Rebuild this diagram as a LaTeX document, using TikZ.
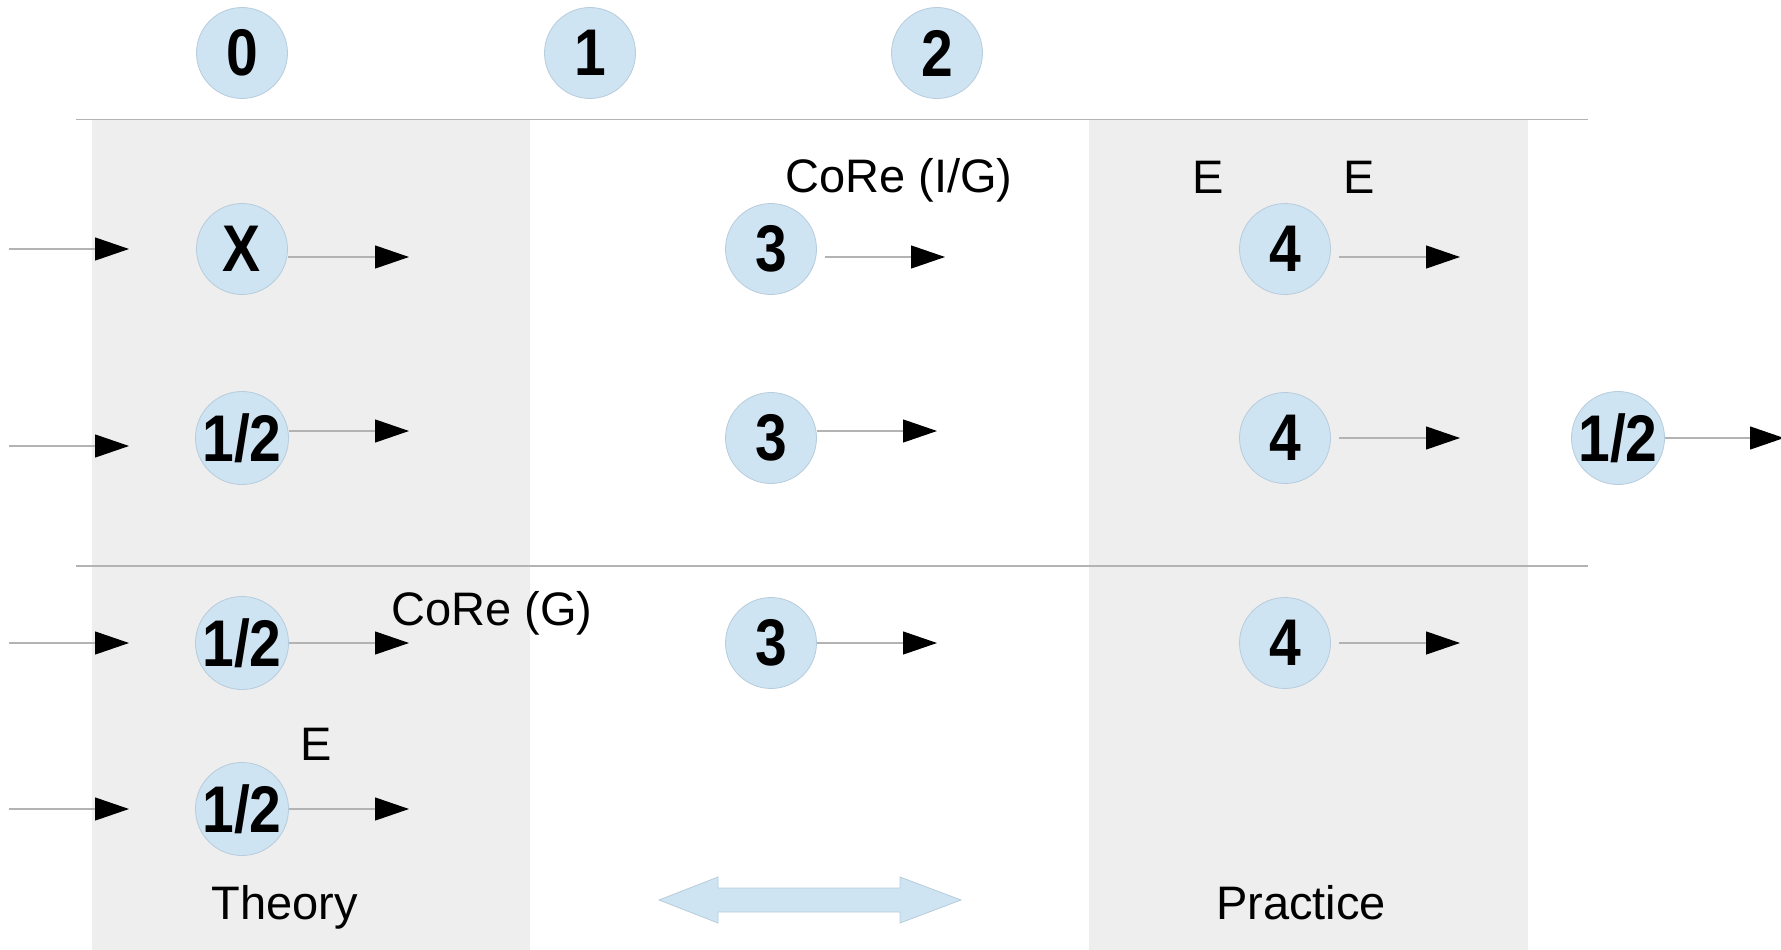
\documentclass[tikz,border=0pt]{standalone}
\usepackage{fontspec}
\setmainfont{Liberation Sans}
\usetikzlibrary{arrows.meta}
\definecolor{cblue}{HTML}{CFE4F2}
\definecolor{cborder}{HTML}{B7CCDC}
\definecolor{colgray}{HTML}{EEEEEE}
\definecolor{lgray}{HTML}{B3B3B3}
\newcommand{\numtxt}[1]{\scalebox{0.95}[1.1]{#1}}
\begin{document}
\begin{tikzpicture}[x=1pt,y=-1pt,
  num/.style={circle, fill=cblue, draw=cborder, line width=0.8pt, minimum size=91pt, inner sep=0pt,
    font=\fontsize{60}{60}\selectfont\bfseries},
  conn/.style={draw=lgray, line width=1.2pt, -{Triangle[length=34pt,width=23pt,color=black]}},
  sepline/.style={draw=lgray, line width=1.2pt},
  lbl/.style={inner sep=0pt, anchor=base, font=\fontsize{47}{47}\selectfont}]
\useasboundingbox (0,0) rectangle (1781,950);
% columns
\fill[colgray] (92,120) rectangle (530,950);
\fill[colgray] (1089,120) rectangle (1528,950);
% separator lines
\draw[sepline] (76,119.5) -- (1588,119.5);
\draw[sepline] (76,566) -- (1588,566);
% top numbers
\node[num] (n0) at (242,53) {\numtxt{0}};
\node[num] (n1) at (590,53) {\numtxt{1}};
\node[num] (n2) at (937,53) {\numtxt{2}};
% row 1
\node[num] (x1) at (242,249) {\numtxt{X}};
\node[num] (t1) at (771,249) {\numtxt{3}};
\node[num] (f1) at (1285,249) {\numtxt{4}};
% row 2
\node[num] (h2) at (242,438) {\numtxt{1/2}};
\node[num] (t2) at (771,438) {\numtxt{3}};
\node[num] (f2) at (1285,438) {\numtxt{4}};
\node[num] (r2) at (1618,438) {\numtxt{1/2}};
% row 3
\node[num] (h3) at (242,643) {\numtxt{1/2}};
\node[num] (t3) at (771,643) {\numtxt{3}};
\node[num] (f3) at (1285,643) {\numtxt{4}};
% row 4
\node[num] (h4) at (242,809) {\numtxt{1/2}};
% coordinates
\coordinate (i1s) at (9,249);  \coordinate (i1e) at (129,249);
\coordinate (i2s) at (9,446);  \coordinate (i2e) at (129,446);
\coordinate (i3s) at (9,643);  \coordinate (i3e) at (129,643);
\coordinate (i4s) at (9,809);  \coordinate (i4e) at (129,809);
\coordinate (x1e) at (409,257);
\coordinate (t1s) at (825,257); \coordinate (t1e) at (945,257);
\coordinate (f1s) at (1339,257); \coordinate (f1e) at (1460,257);
\coordinate (h2e) at (409,431);
\coordinate (t2e) at (937,431);
\coordinate (f2s) at (1339,438); \coordinate (f2e) at (1460,438);
\coordinate (r2e) at (1784,438);
\coordinate (h3e) at (409,643);
\coordinate (t3e) at (937,643);
\coordinate (f3s) at (1339,643); \coordinate (f3e) at (1460,643);
\coordinate (h4e) at (409,809);
% connectors
\draw[conn] (i1s) -- (i1e);
\draw[conn] (i2s) -- (i2e);
\draw[conn] (i3s) -- (i3e);
\draw[conn] (i4s) -- (i4e);
\draw[conn] (x1.east |- x1e) -- (x1e);
\draw[conn] (t1s) -- (t1e);
\draw[conn] (f1s) -- (f1e);
\draw[conn] (h2.east |- h2e) -- (h2e);
\draw[conn] (t2.east |- t2e) -- (t2e);
\draw[conn] (f2s) -- (f2e);
\draw[conn] (r2) -- (r2e);
\draw[conn] (h3) -- (h3e);
\draw[conn] (t3) -- (t3e);
\draw[conn] (f3s) -- (f3e);
\draw[conn] (h4) -- (h4e);
% labels
\node[lbl] (core1) at (899,192) {CoRe (I/G)};
\node[lbl] (core2) at (492,625) {CoRe (G)};
\node[lbl] (e1) at (1208,193) {E};
\node[lbl] (e2) at (1359,193) {E};
\node[lbl] (e3) at (316,760) {E};
\node[lbl] (theory) at (285,919) {Theory};
\node[lbl] (practice) at (1301,919) {Practice};
% double arrow
\filldraw[fill=cblue, draw=cborder, line width=0.8pt]
  (659,900) -- (718,877) -- (718,888) -- (900,888) -- (900,877) -- (961,900)
  -- (900,923) -- (900,912) -- (718,912) -- (718,923) -- cycle;
\end{tikzpicture}
\end{document}
